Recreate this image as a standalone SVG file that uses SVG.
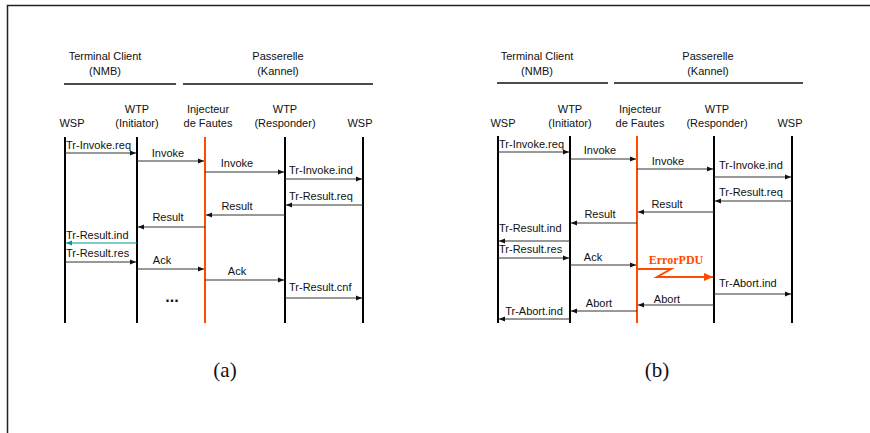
<svg xmlns="http://www.w3.org/2000/svg" width="870" height="433" viewBox="0 0 870 433">
<defs>
<marker id="ah" markerUnits="userSpaceOnUse" markerWidth="6" markerHeight="6" viewBox="0 0 6 6" refX="6" refY="3" orient="auto"><path d="M0,0.5 L6,3 L0,5.5 Z" fill="#111"/></marker>
<marker id="aht" markerUnits="userSpaceOnUse" markerWidth="6" markerHeight="6" viewBox="0 0 6 6" refX="6" refY="3" orient="auto"><path d="M0,0.5 L6,3 L0,5.5 Z" fill="#009999"/></marker>
<marker id="aho" markerUnits="userSpaceOnUse" markerWidth="9" markerHeight="9" viewBox="0 0 9 9" refX="9" refY="4.5" orient="auto"><path d="M0,0.5 L9,4.5 L0,8.5 Z" fill="#ff4a00"/></marker>
</defs>
<style>
text{font-family:"Liberation Sans",Arial,sans-serif;font-size:11px;fill:#111}
.c{text-anchor:middle}
.cap{font-family:"Liberation Serif","Times New Roman",serif;font-size:21px;text-anchor:middle}
.err{font-family:"Liberation Serif","Times New Roman",serif;font-weight:bold;font-size:12px;fill:#ff4a00}
.life{stroke:#000;stroke-width:2}
.inj{stroke:#ff4a00;stroke-width:2}
.hdr{stroke:#111;stroke-width:1.5}
.msg{stroke:#333;stroke-width:1;fill:none;marker-end:url(#ah)}
.teal{stroke:#009999;stroke-width:1;fill:none;marker-end:url(#aht)}
.epdu{stroke:#ff4a00;stroke-width:2;fill:none;marker-end:url(#aho)}
</style>
<rect width="870" height="433" fill="#fff"/>
<path d="M7.5,433 V5.5 H870" fill="none" stroke="#222" stroke-width="1.5"/>

<!-- Diagram (a) -->
<g id="a-headers">
<text class="c" x="105" y="60">Terminal Client</text>
<text class="c" x="105" y="75">(NMB)</text>
<text class="c" x="278" y="60">Passerelle</text>
<text class="c" x="278" y="75">(Kannel)</text>
<line class="hdr" x1="64" y1="84" x2="176" y2="84"/>
<line class="hdr" x1="183" y1="84" x2="373" y2="84"/>
</g>
<g id="a-wsp1"><text class="c" x="72" y="127">WSP</text><line class="life" x1="65" y1="137" x2="65" y2="323"/></g>
<g id="a-wtpi"><text class="c" x="137" y="113">WTP</text><text class="c" x="137" y="127">(Initiator)</text><line class="life" x1="137" y1="137" x2="137" y2="323"/></g>
<g id="a-inj"><text class="c" x="208" y="113">Injecteur</text><text class="c" x="208" y="127">de Fautes</text><line class="inj" x1="205" y1="137" x2="205" y2="323"/></g>
<g id="a-wtpr"><text class="c" x="285" y="113">WTP</text><text class="c" x="285" y="127">(Responder)</text><line class="life" x1="285" y1="137" x2="285" y2="323"/></g>
<g id="a-wsp2"><text class="c" x="360" y="127">WSP</text><line class="life" x1="363" y1="137" x2="363" y2="323"/></g>

<g id="a-connectors">
<line class="msg" x1="65" y1="153" x2="136" y2="153"/>
<line class="msg" x1="137" y1="161" x2="204" y2="161"/>
<line class="msg" x1="205" y1="172" x2="284" y2="172"/>
<line class="msg" x1="285" y1="179" x2="362" y2="179"/>
<line class="msg" x1="363" y1="205" x2="286" y2="205"/>
<line class="msg" x1="285" y1="215" x2="206" y2="215"/>
<line class="msg" x1="205" y1="227" x2="138" y2="227"/>
<line class="teal" x1="137" y1="243" x2="66" y2="243"/>
<line class="msg" x1="65" y1="262" x2="136" y2="262"/>
<line class="msg" x1="137" y1="269" x2="204" y2="269"/>
<line class="msg" x1="205" y1="280" x2="284" y2="280"/>
<line class="msg" x1="285" y1="298" x2="362" y2="298"/>
</g>
<g id="a-labels">
<text x="66" y="149">Tr-Invoke.req</text>
<text class="c" x="168" y="157">Invoke</text>
<text class="c" x="237" y="167">Invoke</text>
<text x="289" y="174">Tr-Invoke.ind</text>
<text x="289" y="200">Tr-Result.req</text>
<text class="c" x="237" y="210">Result</text>
<text class="c" x="168" y="221">Result</text>
<text x="66" y="239">Tr-Result.ind</text>
<text x="66" y="257">Tr-Result.res</text>
<text class="c" x="162" y="264">Ack</text>
<text class="c" x="237" y="275">Ack</text>
<text x="289" y="291">Tr-Result.cnf</text>
<text class="c" x="172" y="302" style="font-weight:bold;font-size:16px">...</text>
</g>
<text class="cap" x="225" y="377">(a)</text>

<!-- Diagram (b) -->
<g id="b-headers">
<text class="c" x="537" y="60">Terminal Client</text>
<text class="c" x="537" y="75">(NMB)</text>
<text class="c" x="708" y="60">Passerelle</text>
<text class="c" x="708" y="75">(Kannel)</text>
<line class="hdr" x1="497" y1="83" x2="608" y2="83"/>
<line class="hdr" x1="614" y1="83" x2="803" y2="83"/>
</g>
<g id="b-wsp1"><text class="c" x="503" y="127">WSP</text><line class="life" x1="498" y1="136" x2="498" y2="323"/></g>
<g id="b-wtpi"><text class="c" x="570" y="113">WTP</text><text class="c" x="570" y="127">(Initiator)</text><line class="life" x1="570" y1="136" x2="570" y2="323"/></g>
<g id="b-inj"><text class="c" x="640" y="113">Injecteur</text><text class="c" x="640" y="127">de Fautes</text><line class="inj" x1="637" y1="136" x2="637" y2="323"/></g>
<g id="b-wtpr"><text class="c" x="717" y="113">WTP</text><text class="c" x="717" y="127">(Responder)</text><line class="life" x1="714" y1="136" x2="714" y2="323"/></g>
<g id="b-wsp2"><text class="c" x="790" y="127">WSP</text><line class="life" x1="792" y1="136" x2="792" y2="323"/></g>

<g id="b-connectors">
<line class="msg" x1="498" y1="152" x2="569" y2="152"/>
<line class="msg" x1="570" y1="159" x2="636" y2="159"/>
<line class="msg" x1="637" y1="169" x2="713" y2="169"/>
<line class="msg" x1="714" y1="177" x2="791" y2="177"/>
<line class="msg" x1="792" y1="201" x2="715" y2="201"/>
<line class="msg" x1="714" y1="212" x2="638" y2="212"/>
<line class="msg" x1="637" y1="223" x2="571" y2="223"/>
<line class="msg" x1="570" y1="241" x2="499" y2="241"/>
<line class="msg" x1="498" y1="258" x2="569" y2="258"/>
<line class="msg" x1="570" y1="265" x2="636" y2="265"/>
<path class="epdu" d="M637,269 H671 L657,277 H713"/>
<line class="msg" x1="714" y1="294" x2="791" y2="294"/>
<line class="msg" x1="714" y1="305" x2="638" y2="305"/>
<line class="msg" x1="637" y1="311" x2="571" y2="311"/>
<line class="msg" x1="570" y1="319" x2="499" y2="319"/>
</g>
<g id="b-labels">
<text x="499" y="148">Tr-Invoke.req</text>
<text class="c" x="600" y="154">Invoke</text>
<text class="c" x="668" y="165">Invoke</text>
<text x="719" y="169">Tr-Invoke.ind</text>
<text x="719" y="196">Tr-Result.req</text>
<text class="c" x="667" y="208">Result</text>
<text class="c" x="600" y="218">Result</text>
<text x="499" y="232">Tr-Result.ind</text>
<text x="499" y="253">Tr-Result.res</text>
<text class="c" x="593" y="261">Ack</text>
<text class="err" x="676" y="264" text-anchor="middle">ErrorPDU</text>
<text x="719" y="287">Tr-Abort.ind</text>
<text class="c" x="667" y="303">Abort</text>
<text class="c" x="599" y="307">Abort</text>
<text class="c" x="534" y="315">Tr-Abort.ind</text>
</g>
<text class="cap" x="657" y="377">(b)</text>
</svg>
